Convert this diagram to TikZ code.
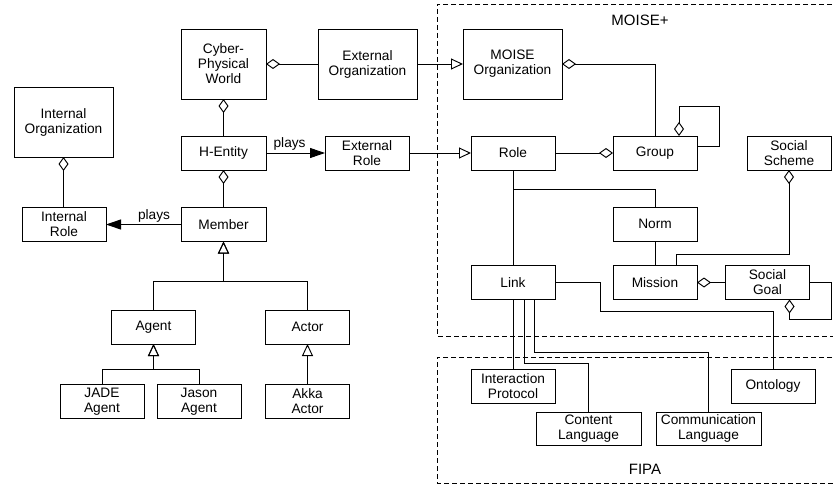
\documentclass[tikz,border=0pt]{standalone}
\usepackage{fontspec}
\setmainfont{Liberation Sans}
\usetikzlibrary{arrows.meta,calc}
\begin{document}
\begin{tikzpicture}[x=1pt,y=-1pt,
  box/.style={draw, line width=0.95pt, align=center, inner sep=0pt, outer sep=0pt,
    minimum width=84pt, minimum height=34pt, font=\fontsize{13.7}{15}\selectfont},
  bigbox/.style={box, minimum width=99pt, minimum height=70pt},
  widebox/.style={box, minimum width=105pt, minimum height=33pt},
  conn/.style={line width=0.95pt},
  agg/.style={conn, {Diamond[open,length=14pt,width=10pt]}-},
  gen/.style={conn, -{Triangle[open,length=12pt,width=11pt]}},
  plays/.style={conn, -{Triangle[length=15pt,width=10pt]}},
  region/.style={line width=0.8pt, dash pattern=on 5pt off 3pt},
  lbl/.style={font=\fontsize{15}{18}\selectfont},
  rel/.style={font=\fontsize{13.7}{15}\selectfont, inner sep=2pt}
]
\useasboundingbox (0,0) rectangle (833,487);

% package regions
\draw[region] (840,4) -| (437,336) -- (840,336);
\draw[region] (840,357) -| (437,483) -- (840,483);
\node[lbl] (moiselbl) at (640,20) {MOISE+};
\node[lbl] (fipalbl) at (645,469) {FIPA};

% classes
\node[box, minimum width=85pt, minimum height=70pt] (cpw) at (223.5,64) {Cyber-\\Physical\\World};
\node[bigbox] (extorg) at (367.5,64) {External\\Organization};
\node[bigbox] (moiseorg) at (512.5,64) {MOISE\\Organization};
\node[bigbox] (intorg) at (63.5,122) {Internal\\Organization};
\node[box, minimum width=85pt] (hentity) at (223.5,153) {H-Entity};
\node[box] (extrole) at (367,153) {External\\Role};
\node[box] (introle) at (64,224.5) {Internal\\Role};
\node[box, minimum width=85pt] (member) at (223.5,224.5) {Member};
\node[box] (role) at (513,153) {Role};
\node[box] (group) at (655,153) {Group};
\node[box] (socscheme) at (789,153) {Social\\Scheme};
\node[box] (norm) at (655,224) {Norm};
\node[box] (link) at (513,282.5) {Link};
\node[box] (mission) at (655,282.5) {Mission};
\node[box] (socgoal) at (767.5,282.5) {Social\\Goal};
\node[box] (ontology) at (773,386) {Ontology};
\node[box] (intprot) at (513,386) {Interaction\\Protocol};
\node[widebox] (contlang) at (588.5,428.5) {Content\\Language};
\node[widebox] (commlang) at (708.5,428.5) {Communication\\Language};
\node[box] (agent) at (153.5,327) {Agent};
\node[box] (actor) at (307.5,327) {Actor};
\node[box] (jade) at (102,401.5) {JADE\\Agent};
\node[box] (jason) at (199,401.5) {Jason\\Agent};
\node[box] (akka) at (307.5,401.5) {Akka\\Actor};

% aggregations
\draw[agg] (cpw.east) -- (extorg.west);
\draw[agg] (cpw.south) -- (hentity.north);
\draw[agg] (hentity.south) -- (member.north);
\draw[agg] (intorg.south) -- (intorg.south |- introle.north);
\draw[agg] (moiseorg.east) -| (group.north);
\draw[agg] (group.west) -- (role.east);
\draw[agg] ([xshift=24pt]group.north) |- ([xshift=22pt,yshift=47pt]group.east) |- ([yshift=7pt]group.east);
\draw[agg] (socscheme.south) |- ([xshift=21pt,yshift=11pt]mission.north) -- ([xshift=21pt]mission.north);
\draw[agg] (mission.east) -- (socgoal.west);
\draw[agg] ([xshift=22pt]socgoal.south) |- ([xshift=22pt,yshift=-20pt]socgoal.south east) |- (socgoal.east);

% realizations
\draw[gen] (extorg.east) -- (moiseorg.west);
\draw[gen] (extrole.east) -- (role.west);

% plays
\draw[plays] (hentity.east) -- node[rel, above, pos=0.4] {plays} (extrole.west);
\draw[plays] (member.west) -- node[rel, above, pos=0.36] {plays} (introle.east);

% associations
\draw[conn] (role.south) -- (link.north);
\draw[conn] (role.south) -- ++(0,19) -| (norm.north);
\draw[conn] (norm.south) -- (mission.north);
\draw[conn] (link.east) -- ++(45,0) -- ++(0,28.5) -| (ontology.north);
\draw[conn] (link.south) -- (intprot.north);
\draw[conn] ([xshift=11pt]link.south) |- ([yshift=49pt]contlang.north) -- (contlang.north);
\draw[conn] ([xshift=21pt]link.south) |- ([yshift=60pt]commlang.north) -- (commlang.north);

% generalizations
\draw[gen] (agent.north) |- ([yshift=-40pt]member.south) -- (member.south);
\draw[gen] (actor.north) |- ([yshift=-40pt]member.south) -- (member.south);
\draw[gen] (jade.north) |- ([yshift=-25pt]agent.south) -- (agent.south);
\draw[gen] (jason.north) |- ([yshift=-25pt]agent.south) -- (agent.south);
\draw[gen] (akka.north) -- (actor.south);
\end{tikzpicture}
\end{document}
